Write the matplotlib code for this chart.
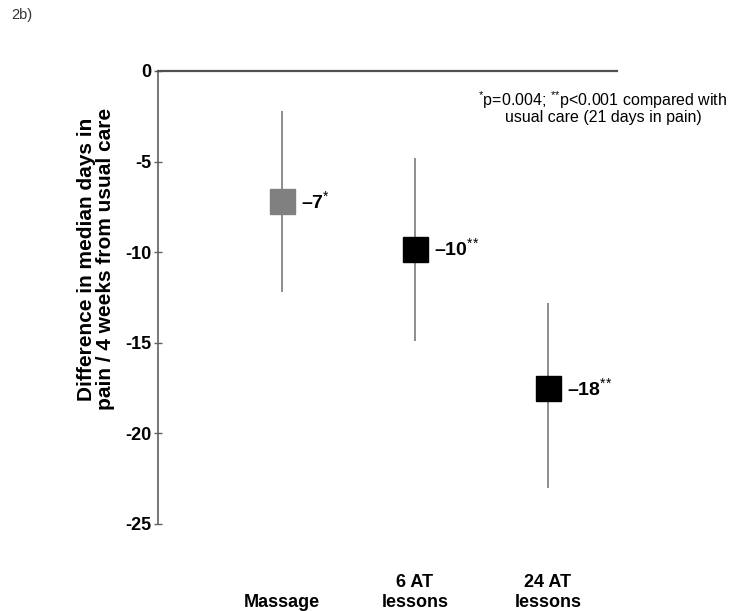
import matplotlib
matplotlib.use("Agg")
import matplotlib.pyplot as plt

plt.rcParams["font.family"] = ["Liberation Sans", "DejaVu Sans"]
plt.rcParams["axes.unicode_minus"] = False
plt.rcParams["mathtext.fontset"] = "custom"
plt.rcParams["mathtext.rm"] = "Liberation Sans"
plt.rcParams["mathtext.it"] = "Liberation Sans"
plt.rcParams["mathtext.bf"] = "Liberation Sans:bold"

# Datos
grupos = ["\nMassage", "6 AT\nlessons", "24 AT\nlessons"]
medianas = [-7.2, -9.8, -17.5]
limite_inf = [-12.2, -14.9, -23.0]
limite_sup = [-2.2, -4.8, -12.8]
etiquetas = ["\u20137$^{{*}}$", "\u201310$^{{*}{*}}$", "\u201318$^{{*}{*}}$"]
colores = ["#808080", "#000000", "#000000"]
yticks = [0, -5, -10, -15, -20, -25]

fig = plt.figure(figsize=(7.33, 6.11), dpi=100)
ax = fig.add_axes([0.2156, 0.1424, 0.6261, 0.7414])

x = [1, 2, 3]
ax.vlines(x, limite_inf, limite_sup, color="#7a7a7a", linewidth=1.2, zorder=1)
for xi, m, c, txt in zip(x, medianas, colores, etiquetas):
    ax.plot(xi, m, marker="s", markersize=18, color=c, linestyle="none", zorder=2)
    ax.annotate(txt, (xi, m), xytext=(14, 0), textcoords="offset points",
                va="center", ha="left", fontsize=14, fontweight="bold")

ax.set_xlim(0.068, 3.519)
ax.set_ylim(-25, 0)
ax.set_yticks(yticks)
ax.set_yticklabels([str(v) for v in yticks], fontsize=13, fontweight="bold")
ax.set_xticks(x)
ax.set_xticklabels(grupos, fontsize=13, fontweight="bold")
ax.tick_params(axis="x", length=0, pad=36)
ax.tick_params(axis="y", direction="inout", length=6, width=1, color="#606060", pad=1.5)

for s in ["right", "bottom"]:
    ax.spines[s].set_visible(False)
ax.spines["left"].set_color("#606060")
ax.spines["left"].set_linewidth(1.2)
ax.spines["top"].set_color("#505050")
ax.spines["top"].set_linewidth(1.6)

fig.text(0.131, 0.576, "Difference in median days in\npain / 4 weeks from usual care",
         rotation=90, ha="center", va="center", multialignment="center",
         fontsize=15, fontweight="bold", linespacing=1.0)
fig.text(0.8227, 0.825,
         "$^{{*}}$p=0.004; $^{{*}{*}}$p<0.001 compared with\nusual care (21 days in pain)",
         ha="center", va="center", multialignment="center", fontsize=11.5, linespacing=0.95)
fig.text(0.016, 0.975, "2b)", ha="left", va="center", fontsize=10.5, color="#333333")

fig.savefig("out.png", dpi=100)
